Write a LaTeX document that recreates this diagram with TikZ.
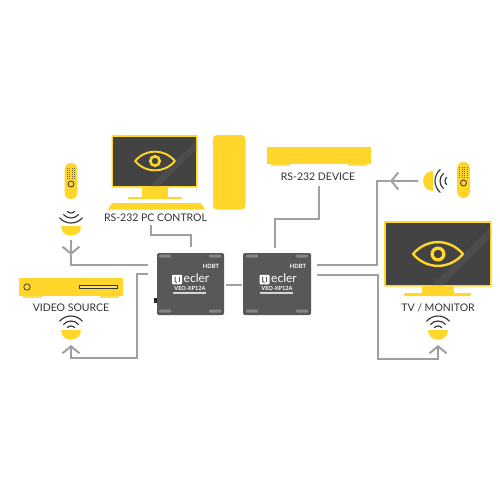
\documentclass[tikz,border=0pt]{standalone}
\usepackage{fontspec}
\setmainfont{Lato}
\usetikzlibrary{arrows.meta}
\definecolor{yel}{HTML}{FFD629}
\definecolor{scr}{HTML}{434343}
\definecolor{scrb}{HTML}{4C4C4C}
\definecolor{dev}{HTML}{58585A}
\definecolor{devl}{HTML}{86868A}
\definecolor{lin}{HTML}{A0A0A4}
\definecolor{txt}{HTML}{333333}
\tikzset{
  link/.style={draw=lin,line width=2pt,line join=miter},
  arrowlink/.style={link,-{Straight Barb[length=7pt,width=17pt,line width=2pt]}},
  lbl/.style={font=\fontsize{10.5pt}{11pt}\selectfont,text=txt,inner sep=0pt},
  wave/.style={draw=txt,line width=1.15pt},
  device/.style={fill=dev,draw=none,rounded corners=1.5pt,minimum width=#1,minimum height=62pt,inner sep=0pt},
  foot/.style={fill=devl,draw=none,rounded corners=1pt,minimum width=12pt,minimum height=3pt,inner sep=0pt},
  hdtxt/.style={text=white,inner sep=0pt,font=\bfseries\fontsize{5.8pt}{6pt}\selectfont},
  devtxt/.style={text=white,inner sep=0pt,font=\bfseries\fontsize{5.6pt}{6pt}\selectfont},
  eclertxt/.style={text=white,inner sep=0pt,font=\fontsize{12pt}{12pt}\selectfont},
  logobox/.style={fill=white,draw=none,rounded corners=.8pt,minimum width=10pt,minimum height=9.5pt,inner sep=0pt},
}
% remote: x centre, top y
\newcommand{\myremote}[2]{%
  \fill[yel,rounded corners=6pt] (#1-6.3,#2) rectangle (#1+6.3,#2+36);
  \foreach \i in {0,...,5}{\foreach \j in {-1.5,-.5,.5,1.5}{
    \fill[txt!70!yel] (#1+\j*2.6-.5,#2+5+\i*2-.4) rectangle ++(1,.8);}}
  \draw[txt,line width=.8pt] (#1,#2+21) circle (3);
}
% bowl, flat side on top
\newcommand{\mybowl}[2]{%
  \fill[yel] (#1-10,#2) -- (#1+10,#2) .. controls (#1+10,#2+13.3) and (#1-10,#2+13.3) .. cycle;
}
\newcommand{\myeye}[4]{% cx cy halfwidth halfheight
  \draw[yel,line width=#3*0.095pt,line join=round] (#1-#3,#2) .. controls (#1-#3*.45,#2-#4*1.32) and (#1+#3*.45,#2-#4*1.32) .. (#1+#3,#2) .. controls (#1+#3*.45,#2+#4*1.32) and (#1-#3*.45,#2+#4*1.32) .. (#1-#3,#2) -- cycle;
  \draw[yel,line width=#3*0.13pt] (#1,#2) circle (#3*.235);
}
% waves: centre cx cy, direction dx dy; e=(-dy,dx)
\newcommand{\mywaves}[4]{%
  \foreach \r in {5,10,15}{
    \draw[wave] (#1+\r*.643*#3-\r*.766*#4,#2+\r*.643*#4+\r*.766*#3)
      .. controls (#1+\r*1.119*#3-\r*.366*#4,#2+\r*1.119*#4+\r*.366*#3)
      and (#1+\r*1.119*#3+\r*.366*#4,#2+\r*1.119*#4-\r*.366*#3) ..
      (#1+\r*.643*#3+\r*.766*#4,#2+\r*.643*#4-\r*.766*#3);}
}
\begin{document}
\begin{tikzpicture}[x=1pt,y=-1pt]
\useasboundingbox (0,0) rectangle (500,500);
\fill[white] (0,0) rectangle (500,500);

% PC
\fill[yel,rounded corners=1pt] (111.5,135) rectangle (197.5,187.5);
\fill[scr] (113,136.5) rectangle (196,186);
\fill[scrb] (196,141) -- (196,150) -- (159,186) -- (150,186) -- cycle;
\myeye{155}{161}{20}{9.5}
\fill[yel] (142,187) rectangle (167.5,197);
\fill[yel] (128,197) rectangle (181.5,199);
\fill[yel] (112,203) -- (201,203) -- (205,209.5) -- (108,209.5) -- cycle;
\fill[yel,rounded corners=4pt] (213,135) rectangle (245.5,209.5);
\node[lbl] (pclabel) at (155.5,217.5) {RS-232 PC CONTROL};

% left remote
\myremote{71}{163}
\mywaves{71}{208}{0}{1}
\mybowl{71}{226}

% video source
\fill[yel] (19,278) rectangle (123,296);
\fill[yel!80!white] (23,296) rectangle (42,298);
\fill[yel!80!white] (100,296) rectangle (119,298);
\draw[txt,line width=.7pt] (27,287) circle (3.2);
\draw[txt,fill=yel!70!white,line width=.8pt] (79.5,285) rectangle (117.5,288.5);
\node[lbl] (vslabel) at (71,307.5) {VIDEO SOURCE};
\mywaves{71}{331}{0}{-1}
\mybowl{71}{330}

% RS-232 device
\fill[yel] (267,147) rectangle (371,164);
\fill[yel!80!white] (271,164) rectangle (290,166);
\fill[yel!80!white] (348,164) rectangle (367,166);
\node[lbl] (rslabel) at (318,176.5) {RS-232 DEVICE};

% right remote
\myremote{463.5}{162}
\mywaves{450}{181}{-1}{0}
\fill[yel] (433,170.5) -- (433,190.5) .. controls (419.7,190.5) and (419.7,170.5) .. cycle;

% TV
\fill[yel,rounded corners=1pt] (384,221) rectangle (491.5,286.5);
\fill[scr] (386,223) rectangle (490,285);
\fill[scrb] (490,228) -- (490,238) -- (443,285) -- (432,285) -- cycle;
\myeye{438}{254}{25}{12}
\fill[yel] (422,286) rectangle (454,293);
\fill[yel,rounded corners=1pt] (404,293) rectangle (471,296);
\node[lbl] (tvlabel) at (438,307.5) {TV / MONITOR};
\mywaves{438}{331}{0}{-1}
\mybowl{438}{330}

% devices
\fill[black!85] (154,298) rectangle (158,303);
\node[device=67pt] (ext1) at (190.5,284) {};
\node[device=68pt] (ext2) at (277,284) {};
\foreach \x/\y in {165/256,215/256,165/311,215/311,252/256,302/256,252/311,302/311}
  \node[foot] at (\x,\y) {};
\node[hdtxt] (hd1) at (211,266) {HDBT};
\node[hdtxt] (hd2) at (298,266) {HDBT};
\node[logobox] (lg1) at (177,279.5) {};
\node[logobox] (lg2) at (264.5,279.5) {};
\draw[dev,line width=1pt] (175,276.5) -- (175,281.5) -- (177,282.5);
\draw[dev,line width=1pt] (179,276.5) -- (179,282);
\draw[dev,line width=1pt] (262.5,276.5) -- (262.5,281.5) -- (264.5,282.5);
\draw[dev,line width=1pt] (266.5,276.5) -- (266.5,282);
\node[eclertxt,anchor=west] (ec1) at (183.5,278.5) {ecler};
\node[eclertxt,anchor=west] (ec2) at (271,278.5) {ecler};
\node[devtxt] (m1) at (190,288.5) {VEO-XP12A};
\node[devtxt] (m2) at (277,288.5) {VEO-XP12A};
\fill[white,opacity=.75] (173,291.8) rectangle (206,293.5);
\fill[white,opacity=.75] (260,291.8) rectangle (293,293.5);

% connectors
\coordinate (a1) at (71,240);   \coordinate (a2) at (71,255);  \coordinate (a3) at (71,265);  \coordinate (a4) at (148,265);
\coordinate (b1) at (148,274);  \coordinate (b2) at (137,274); \coordinate (b3) at (137,358); \coordinate (b4) at (71,358); \coordinate (b5) at (71,345);
\coordinate (c1) at (151,225);  \coordinate (c2) at (151,235); \coordinate (c3) at (191,235); \coordinate (c4) at (191,247);
\coordinate (d1) at (319,186);  \coordinate (d2) at (319,218.5); \coordinate (d3) at (275,218.5); \coordinate (d4) at (275,248);
\coordinate (e1) at (418,181);  \coordinate (e2) at (390,181); \coordinate (e3) at (377,181); \coordinate (e4) at (377,265); \coordinate (e5) at (317,265);
\coordinate (f1) at (317,274.5); \coordinate (f2) at (378,274.5); \coordinate (f3) at (378,358.5); \coordinate (f4) at (438,358.5); \coordinate (f5) at (438,345);
\coordinate (g1) at (226,284.5); \coordinate (g2) at (242,284.5);
\draw[arrowlink] (a1) -- (a2);
\draw[link] (a2) -- (a3) -- (a4);
\draw[arrowlink] (b1) -- (b2) -- (b3) -- (b4) -- (b5);
\draw[link] (c1) -- (c2) -- (c3) -- (c4);
\draw[link] (d1) -- (d2) -- (d3) -- (d4);
\draw[arrowlink] (e1) -- (e2);
\draw[link] (e2) -- (e3) -- (e4) -- (e5);
\draw[arrowlink] (f1) -- (f2) -- (f3) -- (f4) -- (f5);
\draw[link] (g1) -- (g2);
\end{tikzpicture}
\end{document}
